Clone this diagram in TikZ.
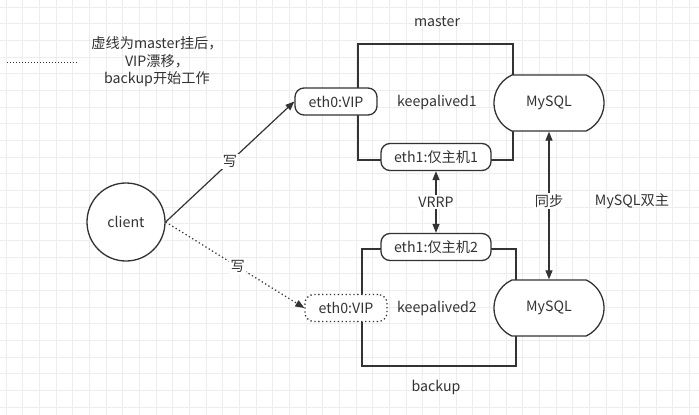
\documentclass[tikz,border=0pt]{standalone}
\usepackage{fontspec}
\setmainfont{Noto Sans CJK SC}
\usetikzlibrary{arrows.meta,shapes.misc,calc}
\definecolor{ink}{HTML}{333333}
\definecolor{gridc}{HTML}{EDEDED}
\newcommand{\fs}{\fontsize{14.2}{17}\selectfont}
\tikzset{
  lbl/.style={text=ink,font=\fs,inner sep=1pt},
  boxline/.style={draw=ink,line width=1.3pt},
  port/.style={draw=ink,line width=1.3pt,rounded corners=9pt,fill=white,text=ink,
     font=\fs,minimum height=27pt,inner sep=0pt},
  db/.style={draw=ink,line width=1.3pt,rounded rectangle,rounded rectangle arc length=130,
     fill=white,text=ink,font=\fs,minimum width=110pt,minimum height=56pt,inner sep=0pt},
  conn/.style={draw=ink,line width=1.2pt},
  tip/.style={-{Triangle[length=9pt,width=7pt]}},
  dtip/.style={{Triangle[length=9pt,width=7pt]}-{Triangle[length=9pt,width=7pt]}},
  dots/.style={dash pattern=on 1.3pt off 2.6pt},
  mid/.style={fill=white,text=ink,font=\fs,inner sep=1.5pt},
}
\begin{document}
\begin{tikzpicture}[x=1pt,y=-1pt]
\useasboundingbox (0,0) rectangle (699,415);
\fill[white] (0,0) rectangle (699,415);
% grid
\foreach \i in {0,...,41} {\draw[gridc,line width=0.8pt] ({6+16.67*\i},0) -- ({6+16.67*\i},415);}
\foreach \i in {0,...,24} {\draw[gridc,line width=0.8pt] (0,{7+16.67*\i}) -- (699,{7+16.67*\i});}

% legend
\coordinate (la) at (7,62);
\coordinate (lb) at (78,62);
\draw[ink,line width=1pt,dash pattern=on 1pt off 2pt] (la) -- (lb);
\node[lbl,align=center,font=\fontsize{14.2}{17.5}\selectfont] (legend) at (157,62) {虚线为master挂后，\\VIP漂移，\\backup开始工作};

% master
\draw[boxline] (358,44) rectangle (513,160);
\node[lbl] (mlabel) at (437,22) {master};
\node[lbl] (k1) at (437,102) {keepalived1};
\node[port,minimum width=82pt] (vip1) at (336,101.5) {eth0:VIP};
\node[port,minimum width=110pt] (e1) at (436,157) {eth1:仅主机1};
\node[db] (m1) at (549,103) {MySQL};

% backup
\draw[boxline] (362,249) rectangle (516,366);
\node[lbl] (blabel) at (436,387) {backup};
\node[lbl] (k2) at (437,308) {keepalived2};
\node[port,minimum width=110pt] (e2) at (436,247) {eth1:仅主机2};
\node[port,minimum width=82pt,dots] (vip2) at (346,308) {eth0:VIP};
\node[db] (m2) at (549,308) {MySQL};

% client
\node[draw=ink,line width=1.3pt,circle,minimum size=78pt,inner sep=0pt,text=ink,
  font=\fs,fill=white] (client) at (126,222) {client};

% connectors
\draw[conn,tip] (client.east) -- (vip1.west) node[mid,pos=0.5] {写};
\draw[conn,tip,dots] (client.east) -- (vip2.west) node[mid,pos=0.52] {写};
\draw[conn,dtip] (e1.south) -- (e2.north) node[mid,pos=0.5] {VRRP};
\draw[conn,dtip] (m1.south) -- (m2.north) node[mid,pos=0.47] {同步};
\node[lbl] (dual) at (632,201) {MySQL双主};
\end{tikzpicture}
\end{document}
